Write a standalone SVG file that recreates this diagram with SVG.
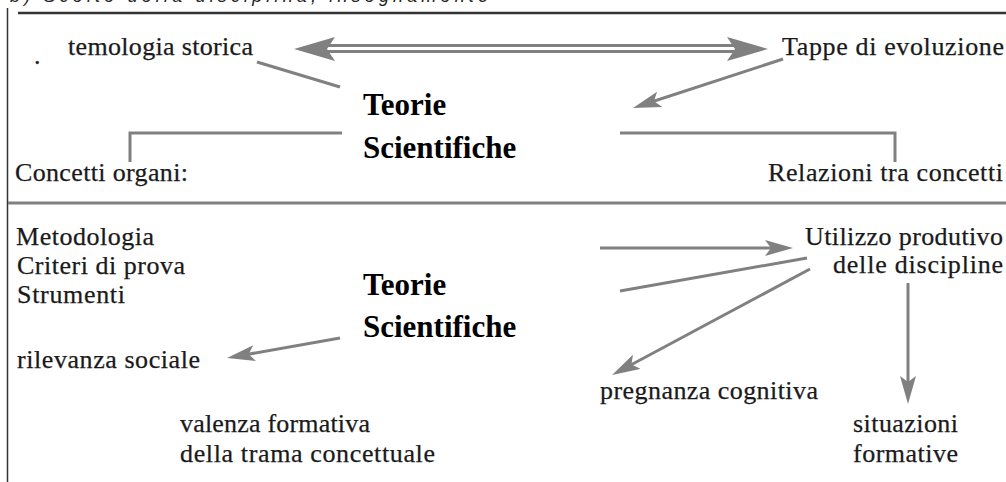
<svg xmlns="http://www.w3.org/2000/svg" width="1006" height="482" viewBox="0 0 1006 482">
<style>
.lbl{font-family:"Liberation Serif","Times New Roman",serif;font-size:26px;fill:#1a1a1a;stroke:#1a1a1a;stroke-width:0.25}
.big{font-family:"Liberation Serif","Times New Roman",serif;font-size:31px;font-weight:bold;fill:#000}
.cap{font-family:"Liberation Sans",Arial,sans-serif;font-size:18px;font-style:italic;fill:#222}
.ln{stroke:#808080;stroke-width:3;fill:none}
.frame{stroke:#333;fill:none}
</style>
<defs>
<marker id="ah" markerUnits="userSpaceOnUse" markerWidth="28" markerHeight="16" viewBox="0 0 28 16" refX="20" refY="8" orient="auto">
<path d="M0,0 L28,8 L0,16 L6,8 z" fill="#808080"/>
</marker>
</defs>
<rect width="1006" height="482" fill="#fff"/>
<g id="frame">
<text class="cap" x="10" y="2" textLength="478" lengthAdjust="spacing">b) Scelte della disciplina, insegnamento</text>
<line class="frame" x1="18" y1="13" x2="1006" y2="13" stroke-width="2.5"/>
<line class="frame" x1="7.5" y1="8" x2="7.5" y2="482" stroke-width="1.5"/>
<line class="ln" x1="8" y1="203" x2="1006" y2="203"/>
</g>
<g id="connectors">
<line class="ln" x1="325" y1="45.5" x2="737" y2="45.5"/>
<line class="ln" x1="325" y1="51.5" x2="737" y2="51.5"/>
<polygon points="294,49 335,37 327,49 335,61" fill="#808080"/>
<polygon points="768,49 727,37 735,49 727,61" fill="#808080"/>
<line class="ln" x1="257" y1="62" x2="340" y2="87"/>
<line class="ln" x1="783" y1="59" x2="640.6" y2="105.5" stroke-width="2.5" marker-end="url(#ah)"/>
<polyline class="ln" points="130,162 130,133 342,133"/>
<polyline class="ln" points="620,133 895,133 895,162"/>
<line class="ln" x1="340" y1="338" x2="234.9" y2="356.6" stroke-width="2.5" marker-end="url(#ah)"/>
<line class="ln" x1="600" y1="248" x2="785" y2="248" marker-end="url(#ah)"/>
<line class="ln" x1="807" y1="258" x2="620" y2="291"/>
<line class="ln" x1="810" y1="269" x2="619.1" y2="371.2" marker-end="url(#ah)"/>
<line class="ln" x1="908" y1="283" x2="908" y2="396" marker-end="url(#ah)"/>
</g>
<g id="dot"><text class="lbl" x="34" y="64">.</text></g>
<g id="epistemologia"><text class="lbl" x="68" y="55" textLength="185" lengthAdjust="spacing">temologia storica</text></g>
<g id="tappe"><text class="lbl" x="782" y="55" textLength="222" lengthAdjust="spacing">Tappe di evoluzione</text></g>
<g id="teorie1"><text class="big" x="363" y="115">Teorie</text><text class="big" x="363" y="158">Scientifiche</text></g>
<g id="concetti"><text class="lbl" x="15" y="181" textLength="173" lengthAdjust="spacing">Concetti organi:</text></g>
<g id="relazioni"><text class="lbl" x="768" y="181" textLength="235" lengthAdjust="spacing">Relazioni tra concetti</text></g>
<g id="metodologia">
<text class="lbl" x="16" y="245" textLength="138" lengthAdjust="spacing">Metodologia</text>
<text class="lbl" x="17" y="274" textLength="168" lengthAdjust="spacing">Criteri di prova</text>
<text class="lbl" x="17" y="303" textLength="108" lengthAdjust="spacing">Strumenti</text>
</g>
<g id="teorie2"><text class="big" x="363" y="295">Teorie</text><text class="big" x="363" y="337">Scientifiche</text></g>
<g id="rilevanza"><text class="lbl" x="17" y="368" textLength="183" lengthAdjust="spacing">rilevanza sociale</text></g>
<g id="valenza">
<text class="lbl" x="180" y="432" textLength="190" lengthAdjust="spacing">valenza formativa</text>
<text class="lbl" x="180" y="462" textLength="255" lengthAdjust="spacing">della trama concettuale</text>
</g>
<g id="utilizzo">
<text class="lbl" x="805" y="245" textLength="198" lengthAdjust="spacing">Utilizzo produtivo</text>
<text class="lbl" x="833" y="273" textLength="170" lengthAdjust="spacing">delle discipline</text>
</g>
<g id="pregnanza"><text class="lbl" x="600" y="399" textLength="218" lengthAdjust="spacing">pregnanza cognitiva</text></g>
<g id="situazioni">
<text class="lbl" x="853" y="432" textLength="105" lengthAdjust="spacing">situazioni</text>
<text class="lbl" x="853" y="462" textLength="105" lengthAdjust="spacing">formative</text>
</g>
</svg>
